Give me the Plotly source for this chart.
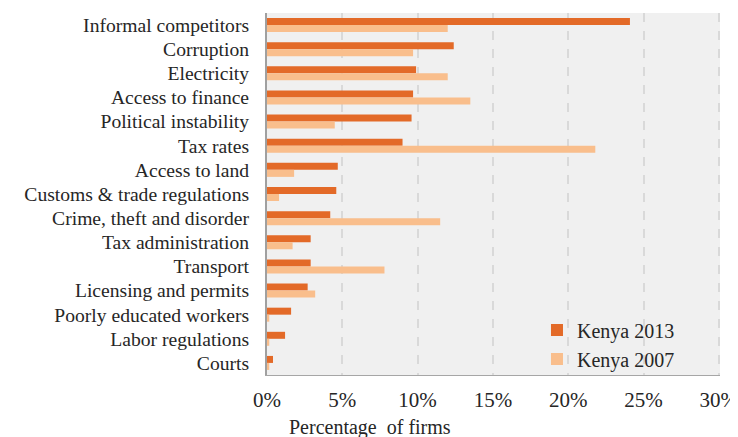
import plotly.graph_objects as go

categories = ["Informal competitors", "Corruption", "Electricity", "Access to finance",
              "Political instability", "Tax rates", "Access to land",
              "Customs & trade regulations", "Crime, theft and disorder",
              "Tax administration", "Transport", "Licensing and permits",
              "Poorly educated workers", "Labor regulations", "Courts"]
kenya_2013 = [24.1, 12.4, 9.9, 9.7, 9.6, 9.0, 4.7, 4.6, 4.2, 2.9, 2.9, 2.7, 1.6, 1.2, 0.4]
kenya_2007 = [12.0, 9.7, 12.0, 13.5, 4.5, 21.8, 1.8, 0.8, 11.5, 1.7, 7.8, 3.2, 0.15, 0.15, 0.15]
x_ticks = [0, 5, 10, 15, 20, 25, 30]
x_tick_labels = ["0%", "5%", "10%", "15%", "20%", "25%", "30%"]

FONT = "Liberation Serif"

fig = go.Figure()
fig.add_trace(go.Bar(y=categories, x=kenya_2013, orientation="h", name="Kenya 2013",
                     marker=dict(color="#E36A28", line=dict(width=0))))
fig.add_trace(go.Bar(y=categories, x=kenya_2007, orientation="h", name="Kenya 2007",
                     marker=dict(color="#F9BE8C", line=dict(width=0))))

# page body has an ~8px margin, so the figure is sized/placed to compensate
fig.update_layout(
    width=730, height=429,
    margin=dict(l=259, r=18, t=5, b=62),
    paper_bgcolor="white",
    plot_bgcolor="#F0F0F0",
    barmode="group",
    bargap=0.42,
    bargroupgap=0.0,
    font=dict(family=FONT, size=20, color="#262626"),
    legend=dict(x=0.596, y=-0.01, xanchor="left", yanchor="bottom",
                bgcolor="rgba(0,0,0,0)", font=dict(size=20, family=FONT),
                traceorder="normal", itemwidth=30, tracegroupgap=0),
    showlegend=True,
)
fig.update_xaxes(range=[0, 30.08], tickmode="array", tickvals=x_ticks, ticktext=x_tick_labels,
                 showgrid=True, gridcolor="#D9D9D9", griddash="dash", gridwidth=1.5,
                 zeroline=False, showline=True, linecolor="#A6A6A6", linewidth=1,
                 ticks="", automargin=False, ticklabelstandoff=6, ticklabeloverflow="allow",
                 tickfont=dict(size=21, family=FONT))
fig.update_yaxes(autorange="reversed", tickmode="array", tickvals=categories, ticktext=categories,
                 showgrid=False, zeroline=False,
                 showline=True, linecolor="#A0A0A0", linewidth=2,
                 ticks="", automargin=False, ticklabelstandoff=12, ticklabeloverflow="allow",
                 tickfont=dict(size=19.6, family=FONT))
fig.add_annotation(text="Percentage  of firms", xref="paper", yref="paper",
                   x=(370 - 267) / (720 - 267), y=-0.146, xanchor="center", yanchor="middle",
                   showarrow=False, font=dict(size=20, family=FONT, color="#262626"))

fig.write_html("out.html")
